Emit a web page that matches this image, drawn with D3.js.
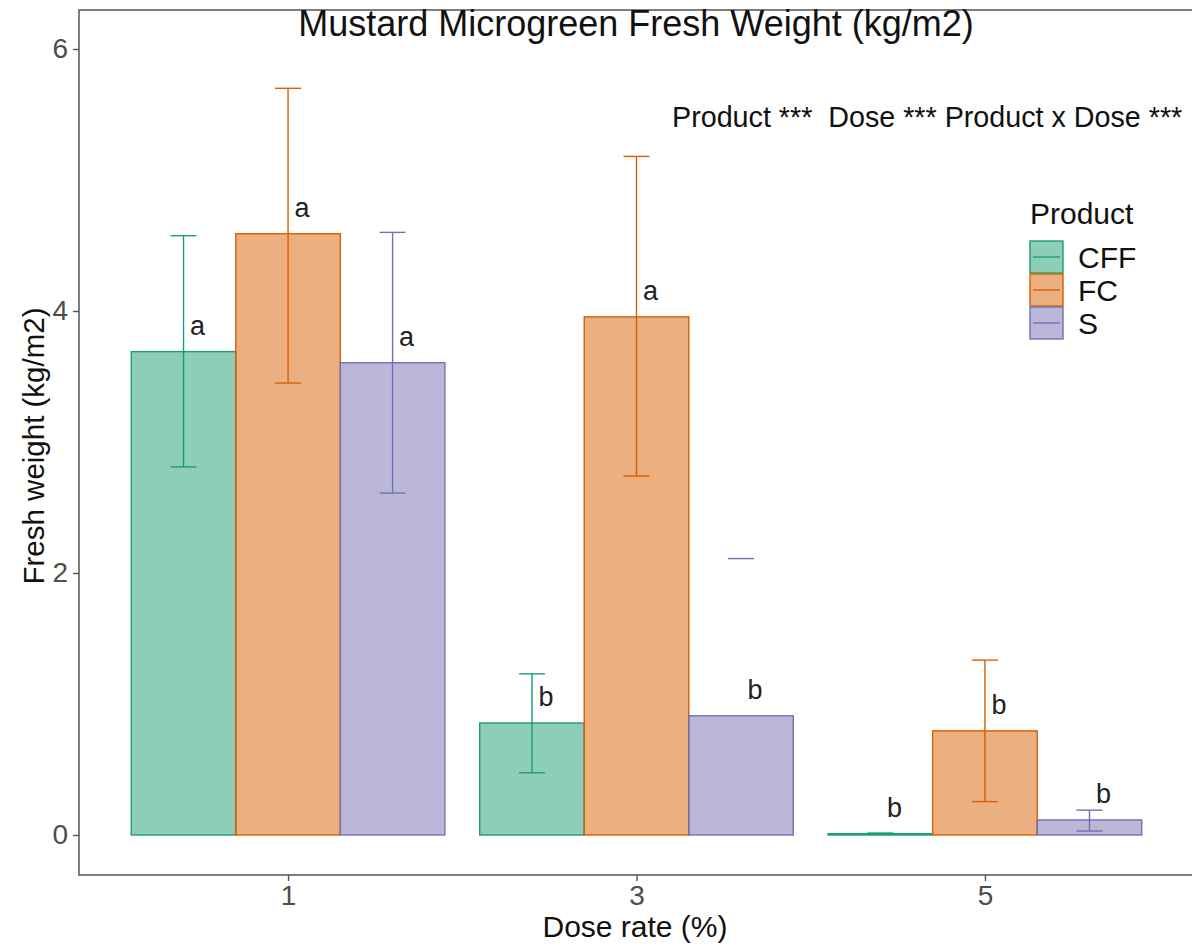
<!DOCTYPE html>
<html>
<head>
<meta charset="utf-8">
<script src="https://cdn.jsdelivr.net/npm/d3@7"></script>
<style>
  body { margin: 0; background: #fff; }
  svg { font-family: "Liberation Sans", Arial, sans-serif; }
</style>
</head>
<body>
<div id="chart"></div>
<script>
// data
const doses = ["1", "3", "5"];
const products = ["CFF", "FC", "S"];
const means = {
  CFF: [3.69, 0.855, 0.01],
  FC: [4.59, 3.955, 0.795],
  S: [3.605, 0.91, 0.115]
};
const errHigh = {
  CFF: [4.575, 1.23, 0.015],
  FC: [5.70, 5.18, 1.335],
  S: [4.60, 2.11, 0.19]
};
const errLow = {
  CFF: [2.81, 0.475, 0.005],
  FC: [3.45, 2.74, 0.255],
  S: [2.61, null, 0.03]
};
const letters = {
  CFF: ["a", "b", "b"],
  FC: ["a", "a", "b"],
  S: ["a", "b", "b"]
};
const yTicks = [0, 2, 4, 6];
const colors = ["#1b9e77", "#d95f02", "#7570b3"];

const width = 1192;
const height = 946;
const panel = { left: 79, right: 1194, top: 10, bottom: 875 };

const svg = d3
  .select("#chart")
  .append("svg")
  .attr("width", width)
  .attr("height", height);

const col = d3.scaleOrdinal().domain(products).range(colors);

// ggplot-like discrete x: 0.6 expansion on each side
const step = (panel.right - panel.left) / (doses.length + 0.2);
const x = d3
  .scalePoint()
  .domain(doses)
  .range([panel.left + 0.6 * step, panel.right - 0.6 * step]);
const groupW = 0.9 * step;
const xs = d3
  .scaleBand()
  .domain(products)
  .range([-groupW / 2, groupW / 2]);

const y = d3.scaleLinear().domain([0, 6]).range([835, 49]);

// rows
const rows = [];
products.forEach((p) => {
  doses.forEach((d, i) => {
    rows.push({
      product: p,
      dose: d,
      mean: means[p][i],
      hi: errHigh[p][i],
      lo: errLow[p][i],
      letter: letters[p][i]
    });
  });
});

// bars
svg
  .append("g")
  .selectAll("rect")
  .data(rows)
  .enter()
  .append("rect")
  .attr("x", (d) => x(d.dose) + xs(d.product))
  .attr("y", (d) => y(d.mean))
  .attr("width", xs.bandwidth())
  .attr("height", (d) => Math.max(y(0) - y(d.mean), 1))
  .attr("fill", (d) => col(d.product))
  .attr("fill-opacity", 0.5)
  .attr("stroke", (d) => col(d.product))
  .attr("stroke-width", 1.4);

// error bars
const capW = 13;
const eb = svg
  .append("g")
  .selectAll("g")
  .data(rows)
  .enter()
  .append("g")
  .attr("stroke", (d) => col(d.product))
  .attr("stroke-width", 1.4);

eb.each(function (d) {
  const g = d3.select(this);
  const cx = x(d.dose) + xs(d.product) + xs.bandwidth() / 2;
  if (d.hi != null && d.lo != null) {
    g.append("line")
      .attr("x1", cx).attr("x2", cx)
      .attr("y1", y(d.hi)).attr("y2", y(d.lo));
  }
  [d.hi, d.lo].forEach((v) => {
    if (v == null) return;
    g.append("line")
      .attr("x1", cx - capW).attr("x2", cx + capW)
      .attr("y1", y(v)).attr("y2", y(v));
  });
});

// letters
svg
  .append("g")
  .selectAll("text")
  .data(rows)
  .enter()
  .append("text")
  .attr("x", (d) => x(d.dose) + xs(d.product) + xs.bandwidth() / 2 + 14)
  .attr("y", (d) => y(d.mean) - 17)
  .attr("text-anchor", "middle")
  .style("font-size", "27px")
  .style("fill", "#222")
  .text((d) => d.letter);

// panel border
svg
  .append("rect")
  .attr("x", panel.left)
  .attr("y", panel.top)
  .attr("width", panel.right - panel.left)
  .attr("height", panel.bottom - panel.top)
  .attr("fill", "none")
  .attr("stroke", "#555")
  .attr("stroke-width", 1.5);

// axes
const yAxis = svg
  .append("g")
  .attr("transform", `translate(${panel.left},0)`)
  .call(d3.axisLeft(y).tickValues(yTicks).tickFormat(d3.format("d")).tickSize(6).tickPadding(5));
yAxis.select(".domain").remove();
yAxis.selectAll("line").attr("stroke", "#555").attr("stroke-width", 1.4);
yAxis.selectAll("text")
  .style("font-size", "28px")
  .style("fill", "#4d4d4d")
  .style("font-family", "Liberation Sans, Arial, sans-serif");

const xAxis = svg
  .append("g")
  .attr("transform", `translate(0,${panel.bottom})`)
  .call(d3.axisBottom(x).tickSize(6).tickPadding(4));
xAxis.select(".domain").remove();
xAxis.selectAll("line").attr("stroke", "#555").attr("stroke-width", 1.4);
xAxis.selectAll("text")
  .style("font-size", "28px")
  .style("fill", "#4d4d4d")
  .style("font-family", "Liberation Sans, Arial, sans-serif");

// titles
svg.append("text")
  .attr("x", 636)
  .attr("y", 36)
  .attr("text-anchor", "middle")
  .style("font-size", "36px")
  .style("fill", "#111")
  .text("Mustard Microgreen Fresh Weight (kg/m2)");

svg.append("text")
  .attr("x", 672)
  .attr("y", 127)
  .style("font-size", "28.7px")
  .style("fill", "#111")
  .attr("xml:space", "preserve")
  .text("Product ***  Dose *** Product x Dose ***");

svg.append("text")
  .attr("x", 635)
  .attr("y", 937)
  .attr("text-anchor", "middle")
  .style("font-size", "30px")
  .style("fill", "#111")
  .text("Dose rate (%)");

svg.append("text")
  .attr("transform", "translate(44,446) rotate(-90)")
  .attr("text-anchor", "middle")
  .style("font-size", "29.5px")
  .style("fill", "#111")
  .text("Fresh weight (kg/m2)");

// legend
const legend = svg.append("g").attr("transform", "translate(1030,0)");
legend.append("text")
  .attr("x", 0)
  .attr("y", 224)
  .style("font-size", "30px")
  .style("fill", "#111")
  .text("Product");

const key = legend
  .selectAll("g.key")
  .data(products)
  .enter()
  .append("g")
  .attr("class", "key")
  .attr("transform", (d, i) => `translate(0,${241 + i * 33})`);

key.append("rect")
  .attr("width", 33)
  .attr("height", 32)
  .attr("fill", (d) => col(d))
  .attr("fill-opacity", 0.5)
  .attr("stroke", (d) => col(d))
  .attr("stroke-width", 1.4);
key.append("line")
  .attr("x1", 3).attr("x2", 30)
  .attr("y1", 16).attr("y2", 16)
  .attr("stroke", (d) => col(d))
  .attr("stroke-width", 1.4);
key.append("text")
  .attr("x", 48)
  .attr("y", 27)
  .style("font-size", "30px")
  .style("fill", "#111")
  .text((d) => d);
</script>
</body>
</html>
